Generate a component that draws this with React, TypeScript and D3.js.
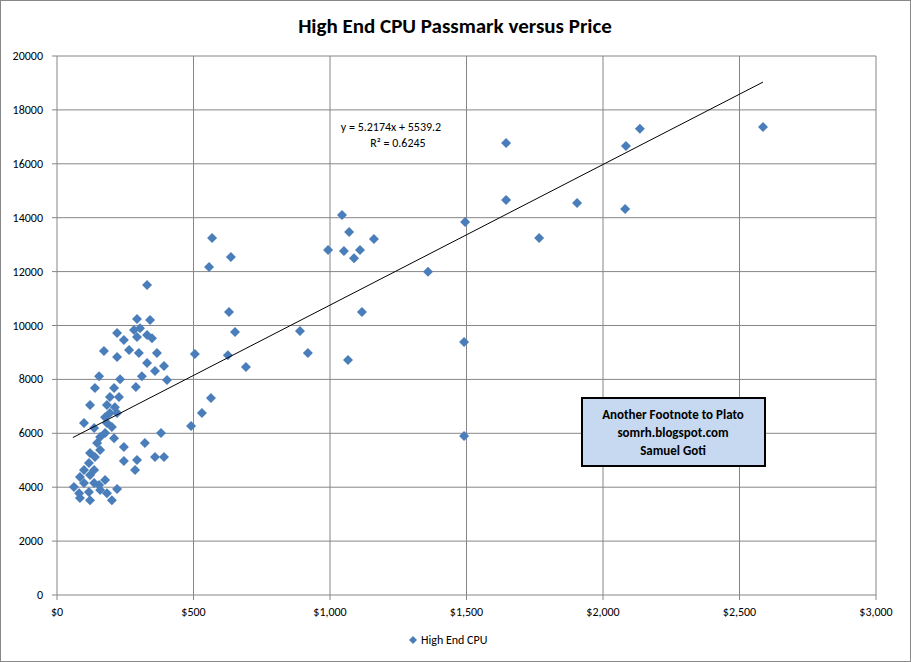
import React from "react";
import * as d3 from "d3";

const prices = [2586,2135,2084,2081,1905,1766,1645,1645,1495,1491,1491,1359,1110,1161,1088,1070,1044,1051,993,1117,1066,890,919,568,557,637,630,652,626,692,564,531,491,505,
330,293,341,282,304,293,330,348,220,245,264,172,220,300,366,330,392,359,311,154,231,403,289,139,209,194,227,183,212,121,194,220,176,99,183,201,136,176,158,209,381,322,245,147,158,121,139,245,293,359,392,286,117,99,136,84,121,62,99,136,176,81,117,158,220,84,183,201,121,154];
const scores = [17370,17300,16660,14320,14550,13250,16770,14660,13840,9390,5900,11990,12800,13210,12500,13470,14100,12760,12800,10500,8720,9800,8980,13250,12170,12540,10500,9760,8900,8460,7310,6750,6270,8940,
11500,10240,10200,9830,9900,9570,9650,9530,9720,9460,9090,9050,8830,8980,8980,8610,8500,8310,8120,8120,8010,7980,7720,7680,7680,7350,7350,7050,6970,7050,6750,6750,6600,6380,6380,6230,6200,6010,5860,5820,6010,5640,5490,5640,5380,5270,5120,4970,5010,5120,5120,4640,4900,4640,4640,4380,4450,4010,4160,4160,4270,3780,3820,3900,3930,3600,3780,3520,3520,4080];
const xTicks = [0, 500, 1000, 1500, 2000, 2500, 3000];
const yTicks = [0, 2000, 4000, 6000, 8000, 10000, 12000, 14000, 16000, 18000, 20000];
const slope = 5.2174, intercept = 5539.2;
const trendRange = [58, 2586];

export default function App() {
  const W = 911, H = 662;
  const x = d3.scaleLinear().domain([0, 3000]).range([57, 876]);
  const y = d3.scaleLinear().domain([0, 20000]).range([595, 56]);
  const font = "Calibri, Carlito, 'Open Sans', sans-serif";
  const fmt = (v: number) => "$" + d3.format(",")(v);
  const dia = (cx: number, cy: number, r = 5) => `M${cx},${cy - r}L${cx + r},${cy}L${cx},${cy + r}L${cx - r},${cy}Z`;
  return (
    <svg width={W} height={H} style={{ position: "absolute", left: 0, top: 0, fontFamily: font }}>
      <rect x={0.5} y={0.5} width={W - 1} height={H - 1} fill="white" stroke="#888" />
      <text x={455} y={33} textAnchor="middle" fontSize={21} fontWeight="bold">High End CPU Passmark versus Price</text>
      {xTicks.map(t => <line key={"x" + t} x1={x(t)} x2={x(t)} y1={56} y2={595} stroke="#868686" />)}
      {yTicks.map(t => <line key={"y" + t} x1={57} x2={876} y1={y(t)} y2={y(t)} stroke="#868686" />)}
      {yTicks.map(t => <line key={"yt" + t} x1={52} x2={57} y1={y(t)} y2={y(t)} stroke="#868686" />)}
      {xTicks.map(t => <line key={"xt" + t} x1={x(t)} x2={x(t)} y1={595} y2={600} stroke="#868686" />)}
      {yTicks.map(t => <text key={"yl" + t} x={43} y={y(t) + 4} textAnchor="end" fontSize={12}>{t}</text>)}
      {xTicks.map(t => <text key={"xl" + t} x={x(t)} y={616} textAnchor="middle" fontSize={12}>{fmt(t)}</text>)}
      {prices.map((p, i) => <path key={i} d={dia(x(p), y(scores[i]))} fill="#4a7ebb" />)}
      <line x1={x(trendRange[0])} y1={y(slope * trendRange[0] + intercept)} x2={x(trendRange[1])} y2={y(slope * trendRange[1] + intercept)} stroke="black" strokeWidth={1} />
      <text x={391} y={131} textAnchor="middle" fontSize={12}>y = 5.2174x + 5539.2</text>
      <text x={398} y={147} textAnchor="middle" fontSize={12}>R² = 0.6245</text>
      <rect x={582} y={398} width={183} height={68} fill="#c6d9f1" stroke="black" strokeWidth={2} />
      <text x={673} y={419} textAnchor="middle" fontSize={13} fontWeight="bold">Another Footnote to Plato</text>
      <text x={673} y={437} textAnchor="middle" fontSize={13} fontWeight="bold">somrh.blogspot.com</text>
      <text x={673} y={455} textAnchor="middle" fontSize={13} fontWeight="bold">Samuel Goti</text>
      <path d={dia(413, 640, 4)} fill="#4a7ebb" />
      <text x={421} y={644} fontSize={12}>High End CPU</text>
    </svg>
  );
}
